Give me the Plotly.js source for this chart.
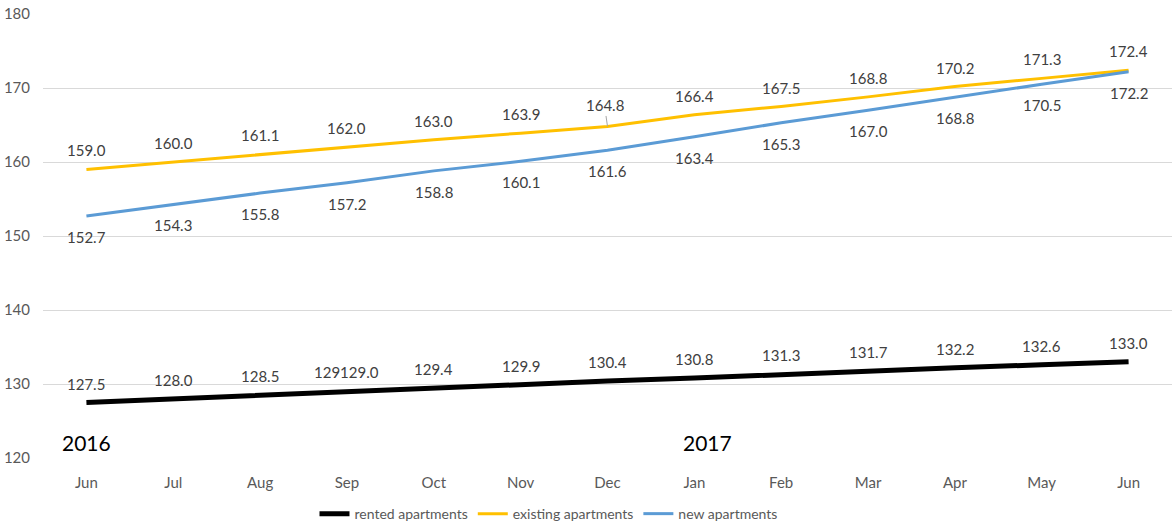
<!DOCTYPE html>
<html>
<head>
<meta charset="utf-8">
<script src="https://cdn.plot.ly/plotly-3.0.1.min.js"></script>
<style>
  html, body { margin: 0; padding: 0; background: #fff; }
  #chart { width: 1172px; height: 524px; }
</style>
</head>
<body>
<div id="chart"></div>
<script>
const months = ["Jun","Jul","Aug","Sep","Oct","Nov","Dec","Jan","Feb","Mar","Apr","May","Jun"];
const rented = [127.5, 128.0, 128.5, 129.0, 129.4, 129.9, 130.4, 130.8, 131.3, 131.7, 132.2, 132.6, 133.0];
const existing = [159.0, 160.0, 161.1, 162.0, 163.0, 163.9, 164.8, 166.4, 167.5, 168.8, 170.2, 171.3, 172.4];
const newApts = [152.7, 154.3, 155.8, 157.2, 158.8, 160.1, 161.6, 163.4, 165.3, 167.0, 168.8, 170.5, 172.2];
const rentedLabels = ["127.5","128.0","128.5","129129.0","129.4","129.9","130.4","130.8","131.3","131.7","132.2","132.6","133.0"];
const yearLabels = ["2016", "2017"];
const yearIndex = [0, 7];

const xIdx = months.map((m, i) => i);
const labelFont = {family: "Lato, 'Open Sans', sans-serif", size: 15, color: "#404040"};

const traces = [
  {x: xIdx, y: rented, name: "rented apartments", mode: "lines", line: {color: "#000000", width: 5}},
  {x: xIdx, y: existing, name: "existing apartments", mode: "lines", line: {color: "#FFC000", width: 3}},
  {x: xIdx, y: newApts, name: "new apartments", mode: "lines", line: {color: "#5B9BD5", width: 3}}
];

const annotations = [];
xIdx.forEach(i => {
  annotations.push({x: i, y: rented[i], text: rentedLabels[i], showarrow: false, yshift: 19, font: labelFont});
  if (i === 6) {
    annotations.push({x: i, y: existing[i], text: existing[i].toFixed(1), showarrow: true, ax: -3, ay: -21,
      arrowhead: 0, arrowwidth: 1, arrowcolor: "#a6a6a6", font: labelFont, standoff: 0});
  } else {
    annotations.push({x: i, y: existing[i], text: existing[i].toFixed(1), showarrow: false, yshift: 19, font: labelFont});
  }
  annotations.push({x: i, y: newApts[i], text: newApts[i].toFixed(1), showarrow: false, yshift: -21, font: labelFont});
});
yearLabels.forEach((t, k) => {
  annotations.push({x: yearIndex[k], y: 0.003, yref: "paper", text: t, showarrow: false,
    xshift: k === 0 ? 0 : 13, font: {family: "Lato, 'Open Sans', sans-serif", size: 21, color: "#000000"}});
});

const layout = {
  width: 1172, height: 524,
  margin: {l: 43, r: 0, t: 14, b: 66},
  paper_bgcolor: "#ffffff", plot_bgcolor: "#ffffff",
  showlegend: true,
  legend: {orientation: "h", x: 0.468, xref: "container", xanchor: "center", y: 0.019, yref: "container", yanchor: "middle",
    font: {family: "Lato, 'Open Sans', sans-serif", size: 14, color: "#595959"}},
  xaxis: {range: [-0.5, 12.5], tickvals: xIdx, ticktext: months, showgrid: false, zeroline: false,
    showline: false, ticks: "", ticklabelstandoff: 14, automargin: false,
    tickfont: {family: "Lato, 'Open Sans', sans-serif", size: 15, color: "#595959"}},
  yaxis: {range: [120, 180], dtick: 10, showgrid: true, gridcolor: "#d9d9d9", gridwidth: 1,
    zeroline: false, showline: false, ticks: "", ticklabelstandoff: 12, automargin: false,
    tickfont: {family: "Lato, 'Open Sans', sans-serif", size: 15, color: "#595959"}},
  annotations: annotations
};

Plotly.newPlot("chart", traces, layout, {displayModeBar: false, responsive: false});
</script>
</body>
</html>
